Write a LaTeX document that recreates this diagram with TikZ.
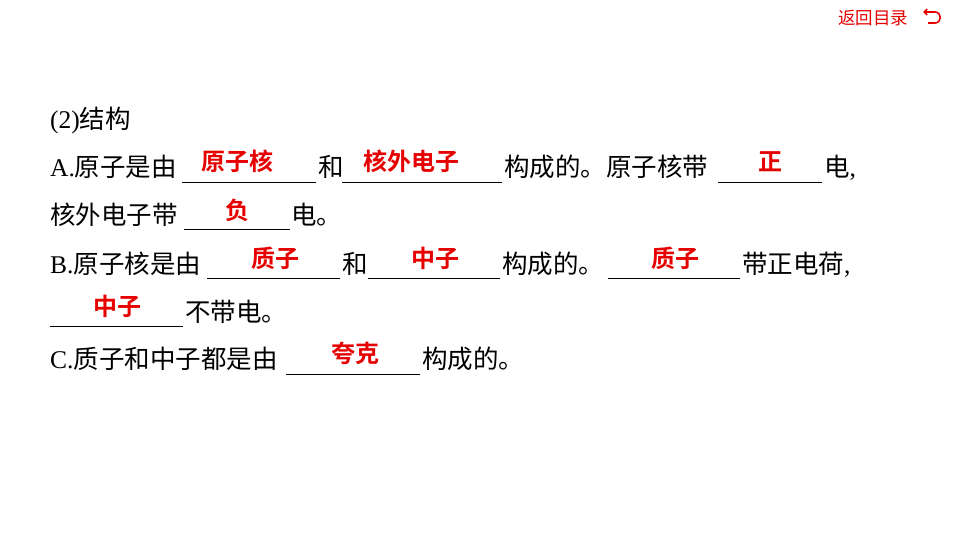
\documentclass[tikz,border=0pt]{standalone}
\usepackage{fontspec}
\usetikzlibrary{arrows.meta}
\setmainfont{Liberation Serif}
\newfontfamily\cjk{Noto Sans CJK SC}
\newfontfamily\cjkb{Noto Sans CJK SC Bold}
\tikzset{
  txt/.style={anchor=base west, inner sep=0pt, font=\fontsize{25.5}{28}\selectfont},
  ans/.style={anchor=base, inner sep=0pt, text=ansred, font=\cjkb\fontsize{24}{28}\selectfont},
  blank/.style={line width=0.6pt}
}
\definecolor{ansred}{RGB}{230,0,0}
\begin{document}
\begin{tikzpicture}[x=1pt,y=-1pt]
\useasboundingbox (0,0) rectangle (960,540);
% top right link
\node[anchor=base west, inner sep=0pt, text=ansred, font=\cjk\fontsize{17.5}{20}\selectfont] (back) at (838,25) {返回目录};
\draw[ansred, line width=1.6pt, {Straight Barb[length=3pt]}-] (923,12) -- (935,12) .. controls (942,12) and (942,23) .. (935,23) -- (928,23);
% (2)
\node[txt] (head) at (50,129) {(2){\cjk 结构}};
% line A
\node[txt] (a1) at (50,177) {A.{\cjk 原子是由}};
\draw[blank] (182,182) -- (316,182);
\node[txt] (a2) at (318,177) {\cjk 和};
\draw[blank] (342,182) -- (502,182);
\node[txt] (a3) at (504,177) {\cjk 构成的。原子核带};
\draw[blank] (718,182) -- (822,182);
\node[txt] (a4) at (824,177) {{\cjk 电},};
\node[ans] (r1) at (237,171) {原子核};
\node[ans] (r2) at (411,171) {核外电子};
\node[ans] (r3) at (770,171) {正};
% line 2
\node[txt] (b0) at (50,224) {\cjk 核外电子带};
\draw[blank] (184,229) -- (290,229);
\node[txt] (b1) at (291,224) {\cjk 电。};
\node[ans] (r4) at (237,219) {负};
% line B
\node[txt] (c1) at (50,273) {B.{\cjk 原子核是由}};
\draw[blank] (207,278) -- (340,278);
\node[txt] (c2) at (342,273) {\cjk 和};
\draw[blank] (368,278) -- (500,278);
\node[txt] (c3) at (502,273) {\cjk 构成的。};
\draw[blank] (608,278) -- (740,278);
\node[txt] (c4) at (742,273) {{\cjk 带正电荷},};
\node[ans] (r5) at (275,267) {质子};
\node[ans] (r6) at (435,267) {中子};
\node[ans] (r7) at (675,267) {质子};
% line 4
\draw[blank] (50,326) -- (183,326);
\node[txt] (d1) at (185,321) {\cjk 不带电。};
\node[ans] (r8) at (117,315) {中子};
% line C
\node[txt] (e1) at (50,368) {C.{\cjk 质子和中子都是由}};
\draw[blank] (286,374) -- (420,374);
\node[txt] (e2) at (422,368) {\cjk 构成的。};
\node[ans] (r9) at (355,362) {夸克};
\end{tikzpicture}
\end{document}
